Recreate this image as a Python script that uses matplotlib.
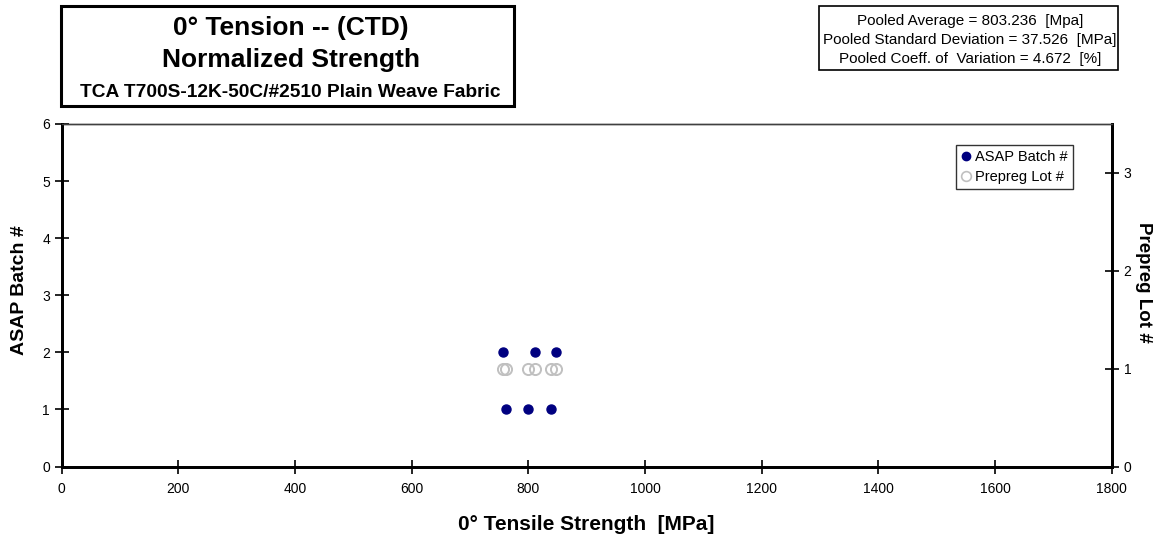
import matplotlib
matplotlib.use("Agg")
import matplotlib.pyplot as plt
import matplotlib.patches as mpatches
from matplotlib.lines import Line2D

plt.rcParams['font.family'] = ['Liberation Sans', 'DejaVu Sans']

# normalized strengths [MPa], grouped by ASAP batch
batch_ids = [1, 1, 1, 2, 2, 2]
strength = [762, 799, 838, 757, 812, 848]
# every specimen came from prepreg lot 1
lot_ids = [1, 1, 1, 1, 1, 1]

pooled_avg = 803.236
pooled_sd = 37.526
pooled_cv = 4.672

x_ticks = [0, 200, 400, 600, 800, 1000, 1200, 1400, 1600, 1800]
batch_ticks = [0, 1, 2, 3, 4, 5, 6]
lot_ticks = [0, 1, 2, 3]

fig = plt.figure(figsize=(11.63, 5.39), dpi=100)
ax = fig.add_axes([0.0531, 0.1345, 0.9028, 0.6355])
ax2 = ax.twinx()

ax.plot(strength, batch_ids, 'o', color='#000080', ms=6.5, mec='#000080', zorder=3)
ax2.plot(strength, lot_ids, 'o', mfc='none', mec='#c0c0c0', mew=1.4, ms=8, zorder=2)
ax.set_zorder(ax2.get_zorder() + 1)
ax.patch.set_visible(False)

ax.set_xlim(0, 1800)
ax.set_ylim(0, 6)
ax2.set_ylim(0, 3.5)
ax.set_xticks(x_ticks)
ax.set_yticks(batch_ticks)
ax2.set_yticks(lot_ticks)

for a in (ax, ax2):
    for side in ('left', 'bottom', 'right'):
        a.spines[side].set_linewidth(2)
    a.spines['top'].set_linewidth(1)
    a.spines['top'].set_color('#404040')
    a.tick_params(direction='inout', length=10, width=1.2, labelsize=10, colors='black')
ax.tick_params(axis='x', pad=6)

ax.set_xlabel('0° Tensile Strength  [MPa]', fontsize=15, fontweight='bold', va='top')
ax.xaxis.set_label_coords(0.4993, -0.1416)
ax.set_ylabel('ASAP Batch #', fontsize=14, fontweight='bold', va='bottom')
ax.yaxis.set_label_coords(-0.0321, 0.515)
ax2.set_ylabel('Prepreg Lot #', fontsize=13.5, fontweight='bold', rotation=270, va='bottom')
ax2.yaxis.set_label_coords(1.0222, 0.539)

handles = [
    Line2D([], [], ls='none', marker='o', color='#000080', ms=6),
    Line2D([], [], ls='none', marker='o', mfc='none', mec='#c0c0c0', mew=1.2, ms=7),
]
leg = ax.legend(handles, ['ASAP Batch #', 'Prepreg Lot #'], loc='upper right',
                bbox_to_anchor=(0.963, 0.939), fontsize=10.5, frameon=True, fancybox=False,
                handlelength=0.6, handletextpad=0.35, borderpad=0.35, labelspacing=0.4,
                borderaxespad=0)
leg.get_frame().set_edgecolor('black')
leg.get_frame().set_linewidth(1)

# title block
fig.patches.append(mpatches.Rectangle((0.0522, 0.8033), 0.3898, 0.186, transform=fig.transFigure,
                                      fill=False, edgecolor='black', linewidth=2.2))
fig.text(0.25, 0.9351, '0° Tension -- (CTD)', ha='center', va='baseline', fontsize=19, fontweight='bold')
fig.text(0.25, 0.8757, 'Normalized Strength', ha='center', va='baseline', fontsize=19, fontweight='bold')
fig.text(0.25, 0.8200, 'TCA T700S-12K-50C/#2510 Plain Weave Fabric', ha='center', va='baseline',
         fontsize=13.8, fontweight='bold')

# pooled statistics block
fig.patches.append(mpatches.Rectangle((0.7042, 0.8701), 0.2571, 0.1193, transform=fig.transFigure,
                                      fill=False, edgecolor='black', linewidth=1.2))
fig.text(0.834, 0.9536, f'Pooled Average = {pooled_avg:.3f}  [Mpa]', ha='center', va='baseline', fontsize=11)
fig.text(0.834, 0.9184, f'Pooled Standard Deviation = {pooled_sd:.3f}  [MPa]', ha='center', va='baseline', fontsize=11)
fig.text(0.834, 0.8831, f'Pooled Coeff. of  Variation = {pooled_cv:.3f}  [%]', ha='center', va='baseline', fontsize=11)

fig.savefig('out.png', dpi=100)
